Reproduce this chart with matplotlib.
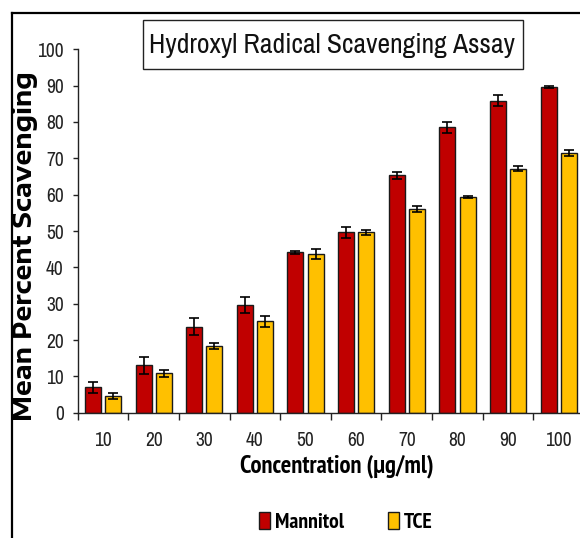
import numpy as np
import matplotlib
matplotlib.use("Agg")
import matplotlib.pyplot as plt
from matplotlib import font_manager
from matplotlib.patches import Rectangle, Patch
from matplotlib.lines import Line2D

# ---- data -------------------------------------------------------------
concentrations = ["10", "20", "30", "40", "50", "60", "70", "80", "90", "100"]
mannitol_mean = [7.0, 13.0, 23.7, 29.6, 44.1, 49.6, 65.3, 78.5, 85.9, 89.7]
mannitol_err = [1.5, 2.3, 2.3, 2.3, 0.3, 1.5, 1.0, 1.5, 1.4, 0.3]
tce_mean = [4.6, 10.8, 18.3, 25.1, 43.7, 49.6, 56.0, 59.4, 67.1, 71.5]
tce_err = [0.7, 1.0, 0.8, 1.4, 1.4, 0.7, 0.9, 0.2, 0.7, 0.9]
series_names = ["Mannitol", "TCE"]
y_ticks = [0, 10, 20, 30, 40, 50, 60, 70, 80, 90, 100]

# ---- fonts ------------------------------------------------------------
_fonts = font_manager.fontManager.ttflist


def _w(v):
    return v if isinstance(v, int) else font_manager.weight_dict.get(v, 400)


def pick(cands, weight=400):
    for name in cands:
        ws = [_w(f.weight) for f in _fonts if f.name == name]
        if any(abs(w - weight) <= 100 for w in ws):
            return name
    return "DejaVu Sans"


narrow_list = ["Liberation Sans Narrow", "Arial Narrow", "Archivo Narrow",
               "PT Sans Narrow", "Roboto Condensed", "Pragati Narrow",
               "Fira Sans Condensed", "IBM Plex Sans Condensed",
               "Asap Condensed", "Encode Sans Condensed", "Liberation Sans"]
narrow = pick(narrow_list, 400)
narrow_bold = pick(narrow_list, 700)
wide_bold = pick(["Encode Sans Expanded", "Archivo Expanded", "DejaVu Sans"], 700)

W, H = 580, 538
fig = plt.figure(figsize=(W / 100, H / 100), dpi=100)
fig.patch.set_facecolor("white")
renderer = fig.canvas.get_renderer()


def px(x, y):
    """Pixel position (from top-left) to figure fraction."""
    return x / W, 1 - y / H


def fit(text, width_px, vertical=False):
    """Scale a text's font size so that its ink spans width_px pixels."""
    bb = text.get_window_extent(renderer)
    size = bb.height if vertical else bb.width
    text.set_fontsize(text.get_fontsize() * width_px / size)
    return text.get_fontsize()


def fitted_size(s, width_px, family, weight="normal"):
    t = fig.text(0, 0, s, family=family, fontweight=weight, fontsize=12)
    fs = fit(t, width_px)
    t.remove()
    return fs


# axes: left spine at x~78 px, zero line at y~413 px, 100 at y~49 px
ax_left, ax_right = 77.7, 584.0
ax_top, ax_bottom = 49.3, 412.7
ax = fig.add_axes([ax_left / W, 1 - ax_bottom / H,
                   (ax_right - ax_left) / W, (ax_bottom - ax_top) / H])
ax.set_facecolor("none")

n = len(concentrations)
x = np.arange(n)
bar_w = 0.316
offset = 0.2
red = "#C00000"
gold = "#FFC000"
edge = "#1a1a1a"

ax.bar(x - offset, mannitol_mean, width=bar_w, color=red, edgecolor=edge,
       linewidth=1.0, zorder=2)
ax.bar(x + offset, tce_mean, width=bar_w, color=gold, edgecolor=edge,
       linewidth=1.0, zorder=2)
ax.errorbar(x - offset, mannitol_mean, yerr=mannitol_err, fmt="none",
            ecolor="black", elinewidth=1.2, capsize=3.6, capthick=1.2, zorder=3)
ax.errorbar(x + offset, tce_mean, yerr=tce_err, fmt="none",
            ecolor="black", elinewidth=1.2, capsize=3.6, capthick=1.2, zorder=3)

ax.set_xlim(-0.5, n - 0.5)
ax.set_ylim(0, 100)

tick_fs = 14

# y axis
ax.set_yticks(y_ticks)
ax.set_yticklabels([str(v) for v in y_ticks], fontfamily=narrow, fontsize=tick_fs,
                   color="#222222")
ax.tick_params(axis="y", direction="out", length=3.6, width=1.0, pad=6.5,
               colors="#222222")

# x axis: ticks at category boundaries, labels at centres
ax.set_xticks(np.arange(n + 1) - 0.5)
ax.set_xticklabels([])
ax.tick_params(axis="x", which="major", direction="out", length=5, width=1.0,
               colors="#222222")
ax.set_xticks(x, minor=True)
ax.set_xticklabels(concentrations, minor=True, fontfamily=narrow, fontsize=tick_fs,
                   color="#222222")
ax.tick_params(axis="x", which="minor", length=0, pad=13)

for side in ("top", "right"):
    ax.spines[side].set_visible(False)
for side in ("left", "bottom"):
    ax.spines[side].set_linewidth(1.0)
    ax.spines[side].set_color("#222222")

# axis titles
ylab = fig.text(*px(25, 246.5), "Mean Percent Scavenging", rotation=90,
                ha="center", va="center", fontsize=15, fontweight="bold",
                family=wide_bold)
fit(ylab, 352, vertical=True)
xlab = fig.text(*px(336.5, 466), "Concentration (\u00b5g/ml)", ha="center",
                va="center", fontsize=15, fontweight="bold", family=narrow_bold)
fit(xlab, 195)

# boxed chart title
tx0, ty0, tx1, ty1 = 143.3, 20.0, 522.7, 69.0
fig.add_artist(Rectangle(px(tx0, ty1), (tx1 - tx0) / W, (ty1 - ty0) / H,
                         transform=fig.transFigure, facecolor="white",
                         edgecolor="#222222", linewidth=1.0))
title = fig.text(*px((tx0 + tx1) / 2 - 1, 45), "Hydroxyl Radical Scavenging Assay",
                 ha="center", va="center", fontsize=20, family=narrow,
                 color="#111111")
fit(title, 366)

# outer frame (left and top edges)
fig.add_artist(Line2D([12 / W, 12 / W], [0, 1 - 12.7 / H],
                      transform=fig.transFigure, color="black", linewidth=1.6))
fig.add_artist(Line2D([12 / W, 1], [1 - 12.7 / H, 1 - 12.7 / H],
                      transform=fig.transFigure, color="black", linewidth=1.6))

# legend
legend_fs = fitted_size("Mannitol", 69, narrow_bold, "bold")
handles = [Patch(facecolor=red, edgecolor=edge, linewidth=1.0),
           Patch(facecolor=gold, edgecolor=edge, linewidth=1.0)]
fig.legend(handles, series_names, loc="center", bbox_to_anchor=px(346, 522),
           ncol=2, frameon=False, handlelength=0.5, handleheight=0.85,
           handletextpad=0.25, columnspacing=2.0,
           prop={"family": narrow_bold, "weight": "bold", "size": legend_fs})

fig.savefig("out.png", dpi=100, facecolor="white")
